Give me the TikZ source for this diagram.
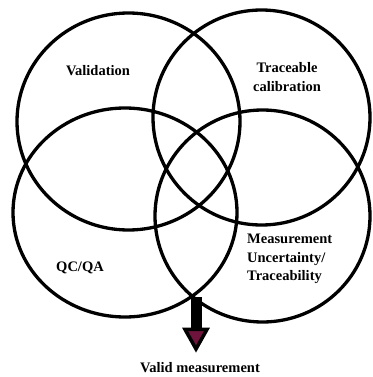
\documentclass[tikz,border=0pt]{standalone}
\usepackage{fontspec}
\setmainfont{Liberation Serif}
\usepackage{tikz}
\usetikzlibrary{calc, positioning, arrows.meta}
\usepackage{xcolor}
\definecolor{tipfill}{RGB}{110, 20, 60}

\begin{document}
\begin{tikzpicture}[x=1pt, y=-1pt, >=Stealth,
    ring/.style={line width=3.3pt, black},
    label/.style={font=\fontsize{14.5}{18.5}\selectfont\bfseries, inner sep=0pt}]
  \useasboundingbox (0, 0) rectangle (372, 377);

  % The four overlapping circles
  \draw[ring] (128.5, 121.5) ellipse [x radius=111.5pt, y radius=108.5pt];
  \draw[ring] (261.5, 117.5) ellipse [x radius=108.5pt, y radius=107.5pt];
  \draw[ring] (125, 212.5) ellipse [x radius=112pt, y radius=104.5pt];
  \draw[ring] (262.5, 216) ellipse [x radius=107.5pt, y radius=106pt];

  % Labels of the circles
  \node[label] (validation) at (98, 71) {Validation};
  \node[label, align=center] (calib) at (287, 77) {Traceable\\calibration};
  \node[label] (qcqa) at (80, 268) {QC/QA};
  \node[label, align=left, anchor=west] (uncert) at (247, 259) {Measurement\\Uncertainty/\\Traceability};

  % Result
  \node[label] (valid) at (200, 368) {Valid measurement};
  \coordinate (meet) at (196, 297);
  \draw[line width=11pt,
    -{Triangle[width=27pt, length=25pt, line width=3.5pt, fill=tipfill]}]
    (meet) -- (meet |- valid.north) [shorten >=10pt];
\end{tikzpicture}
\end{document}
